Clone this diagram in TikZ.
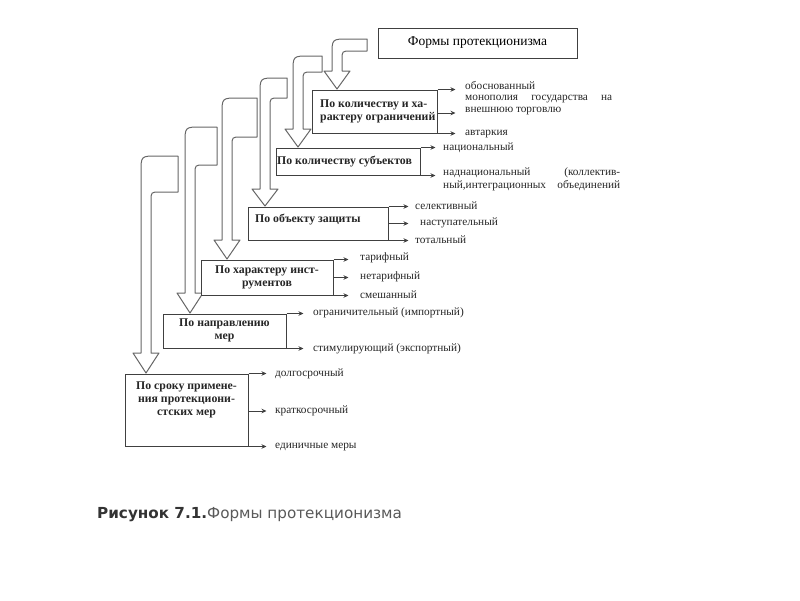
\documentclass[tikz,border=0pt]{standalone}
\usepackage{fontspec}
\setmainfont{Liberation Serif}
\newfontfamily\capfont{DejaVu Sans}
\usetikzlibrary{arrows.meta}
\newcommand\hookarr[6]{%
 \path[hook] ({#3},{#2}) -- ({#1-5+16},{#2}) .. controls ({#1-5},{#2}) .. ({#1-5},{#2+16})
   -- ({#1-5},{#5}) -- ({#1-13},{#5}) -- ({#1},{#6}) -- ({#1+13},{#5}) -- ({#1+5},{#5})
   -- ({#1+5},{#4+9}) .. controls ({#1+5},{#4}) .. ({#1+5+9},{#4}) -- ({#3},{#4}) -- cycle;}
\begin{document}
\begin{tikzpicture}[x=1pt,y=-1pt,
  box/.style={draw=black!75, line width=1pt, fill=white, inner sep=0pt},
  btxt/.style={font=\fontsize{11.8}{13}\selectfont\bfseries, text=black!85, align=center, inner sep=0pt},
  lbl/.style={anchor=west, font=\fontsize{11.3}{12}\selectfont, text=black!85, inner sep=0pt},
  con/.style={draw=black!75, line width=0.8pt, -{Stealth[length=5pt,width=4.5pt]}},
  hook/.style={draw=black!60, line width=1pt, fill=white, line join=round}]
\useasboundingbox[fill=white] (0,0) rectangle (800,600);

% hollow curved arrows
\hookarr{337}{39}{367}{51}{71}{89}
\hookarr{298}{56}{322}{72}{129}{147}
\hookarr{265}{78}{287}{98}{189}{206}
\hookarr{227}{98}{257}{137}{240}{259}
\hookarr{190}{127}{217}{165}{293}{313}
\hookarr{146}{156}{178}{192}{353}{373}

% title
\node[box, minimum width=199pt, minimum height=30pt] (title) at (477.5,43)
  {\fontsize{13.5}{14}\selectfont Формы протекционизма};

% boxes
\node[box, minimum width=125pt, minimum height=43pt] (b1) at (374.5,111.5) {};
\node[box, minimum width=144pt, minimum height=27pt] (b2) at (348,161.5) {};
\node[box, minimum width=140pt, minimum height=33pt] (b3) at (318,223.5) {};
\node[box, minimum width=132pt, minimum height=35pt] (b4) at (267,277.5) {};
\node[box, minimum width=123pt, minimum height=34pt] (b5) at (224.5,331) {};
\node[box, minimum width=123pt, minimum height=72pt] (b6) at (186.5,410) {};

\node[btxt, align=left, anchor=west] (t1) at (320,111) {По количеству и ха-\\рактеру ограничений};
\node[btxt, anchor=west] (t2) at (277,162) {По количеству субъектов};
\node[btxt, anchor=west] (t3) at (255,220) {По объекту защиты};
\node[btxt] (t4) at (267,277) {По характеру инст-\\рументов};
\node[btxt] (t5) at (224.5,330) {По направлению\\мер};
\node[btxt] (t6) at (186.5,400) {По сроку примене-\\ния протекциони-\\стских мер};

% connectors
\draw[con] (b1.north east) -- ++(18,0);
\draw[con] (b1.east) ++(0,1.5) -- ++(18,0);
\draw[con] (b1.south east) -- ++(18,0);
\draw[con] (b2.north east) -- ++(15,0);
\draw[con] (b2.south east) -- ++(15,0);
\draw[con] (b3.north east) -- ++(20,0);
\draw[con] (b3.east) -- ++(20,0);
\draw[con] (b3.south east) -- ++(20,0);
\draw[con] (b4.north east) -- ++(15,0);
\draw[con] (b4.east) -- ++(15,0);
\draw[con] (b4.south east) -- ++(15,0);
\draw[con] (b5.north east) -- ++(17,0);
\draw[con] (b5.south east) -- ++(17,0);
\draw[con] (b6.north east) -- ++(18,0);
\draw[con] (b6.east) ++(0,1) -- ++(18,0);
\draw[con] (b6.south east) -- ++(18,0);

% labels
\node[lbl] (l11) at (465,86) {обоснованный};
\node[lbl] (l12) at (465,99.5) {\makebox[147pt][s]{монополия государства на}};
\node[lbl] (l13) at (465,111.5) {внешнюю торговлю};
\node[lbl] (l14) at (465,134) {автаркия};
\node[lbl] (l21) at (443,148) {национальный};
\node[lbl] (l22) at (443,173) {\makebox[177pt][s]{наднациональный (коллектив-}};
\node[lbl] (l23) at (443,185.5) {\makebox[177pt][s]{ный,интеграционных объединений}};
\node[lbl] (l31) at (415,206) {селективный};
\node[lbl] (l32) at (420,223) {наступательный};
\node[lbl] (l33) at (415,240) {тотальный};
\node[lbl] (l41) at (360,258) {тарифный};
\node[lbl] (l42) at (360,277) {нетарифный};
\node[lbl] (l43) at (360,295) {смешанный};
\node[lbl] (l51) at (313,313) {ограничительный (импортный)};
\node[lbl] (l52) at (313,349) {стимулирующий (экспортный)};
\node[lbl] (l61) at (275,374) {долгосрочный};
\node[lbl] (l62) at (275,411) {краткосрочный};
\node[lbl] (l63) at (275,447) {единичные меры};

% caption
\node[anchor=west, inner sep=0pt, font=\capfont\fontsize{15.2}{17}\selectfont] (cap) at (97,515)
  {\textcolor{black!80}{\bfseries Рисунок 7.1.}\textcolor{black!65}{Формы протекционизма}};
\end{tikzpicture}
\end{document}
